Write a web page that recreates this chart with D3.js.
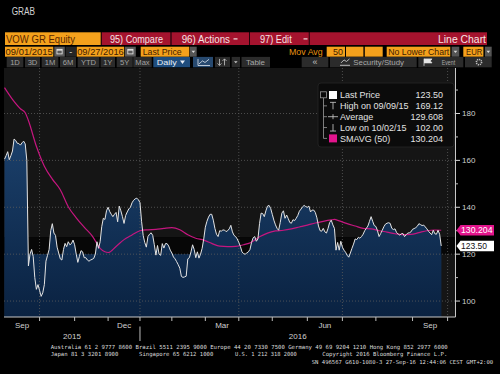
<!DOCTYPE html>
<html>
<head>
<meta charset="utf-8">
<script src="https://cdn.jsdelivr.net/npm/d3@7"></script>
<style>
  html, body { margin: 0; padding: 0; background: #000; }
  svg { display: block; font-family: 'Liberation Sans', Arial, sans-serif; }
</style>
</head>
<body>
<div id="chart"></div>
<script>
'use strict';

// ---- values ----
const holidays = ['2015-12-24', '2015-12-25', '2015-12-31', '2016-01-01', '2016-03-25', '2016-03-28'];
const firstDay = '2015-09-01';

// VOW GR last price, one per trading day from 2015-09-01 to 2016-09-27
const lastPrice = [
  160.5, 162, 163.7, 160.3, 162, 164, 169.1, 168.5, 167.3, 167.2,
  166.5, 167.5, 168.2, 167, 160, 115, 120, 122, 119, 110,
  105, 107, 104.5, 102, 103.5, 107, 117, 119.5, 122, 130,
  133, 129, 128, 123, 120.5, 118, 117.5, 122, 124.6, 123.2,
  125.3, 124, 124.5, 126, 124, 120, 116.5, 119, 121.5, 121,
  118.5, 118.5, 117.5, 117, 117.5, 117.8, 118.2, 120, 125.3, 122.5,
  125.3, 131.7, 135.3, 134.8, 138.5, 140, 138.2, 137, 136, 137,
  137.8, 133.8, 140.5, 138.5, 136, 133.1, 136.5, 138, 139.3, 140,
  141.9, 143, 143.6, 143.9, 143.2, 142, 134, 128, 125, 123,
  127.5, 128.5, 129.1, 128, 124, 119.6, 123.7, 120, 119.5, 124.5,
  122.6, 124.5, 124.5, 123.5, 121.7, 120.5, 118.8, 118, 116.8, 115.5,
  114, 110.5, 110.1, 110.3, 110.6, 118, 118.5, 121, 124, 122,
  118.5, 121, 118.3, 120, 122.5, 126.5, 131.5, 134, 135.8, 137,
  137, 134.5, 131, 128.5, 127.5, 130, 129.8, 130.3, 130.3, 129.6,
  130, 130.8, 132.3, 129.5, 128, 127.5, 126.5, 125, 123.3, 121,
  120.2, 120, 120.5, 121, 122, 125, 127, 127.5, 125.5, 126.5,
  133, 137.5, 137.3, 136, 138.5, 140.5, 140.8, 139.5, 137, 134.5,
  132.5, 131, 130.2, 133.5, 137.5, 138.5, 135.3, 136.7, 135.2, 133.5,
  133.2, 134.7, 134.3, 135.3, 136.5, 138.3, 139.2, 140.2, 140.8, 140.3,
  140, 140.5, 138, 138.8, 138.8, 137.8, 135.5, 132, 130, 129.8,
  131, 129.5, 129, 131, 133.5, 134.5, 132.5, 131, 121.7, 125,
  121.7, 125.5, 123, 121.7, 120.8, 119.5, 118.7, 120.5, 122.5, 124.3,
  126.5, 126.2, 127.2, 126.8, 127.5, 128.5, 130, 131, 132, 134,
  136, 134, 132.2, 131.8, 130, 127.5, 128.8, 130.2, 131.7, 132.8,
  133.2, 133.4, 133.1, 131, 130.5, 130.8, 129.2, 128.6, 128.1, 128.7,
  128.8, 127.5, 128.3, 129, 129.1, 129.5, 130.6, 130.9, 131.3, 131.9,
  133, 132.6, 132.2, 132.4, 131.6, 130.8, 129.8, 129, 128.3, 130.2,
  128.7, 128.5, 130.2, 128.5, 123.5
];

// SMAVG (50)
const smaDates = [
  '2015-09-01', '2015-09-08', '2015-09-15', '2015-09-18', '2015-09-22', '2015-09-29',
  '2015-10-06', '2015-10-13', '2015-10-20', '2015-10-27',
  '2015-11-03', '2015-11-10', '2015-11-17', '2015-11-24', '2015-11-27',
  '2015-12-01', '2015-12-08', '2015-12-15', '2015-12-22',
  '2016-01-04', '2016-01-11', '2016-01-18', '2016-01-25',
  '2016-02-01', '2016-02-08', '2016-02-15', '2016-02-22', '2016-02-29',
  '2016-03-07', '2016-03-14', '2016-03-21', '2016-03-30',
  '2016-04-06', '2016-04-13', '2016-04-20', '2016-04-27',
  '2016-05-04', '2016-05-11', '2016-05-18', '2016-05-25',
  '2016-06-01', '2016-06-08', '2016-06-15', '2016-06-22', '2016-06-24', '2016-06-29',
  '2016-07-06', '2016-07-13', '2016-07-20', '2016-07-27',
  '2016-08-03', '2016-08-10', '2016-08-17', '2016-08-24', '2016-08-31',
  '2016-09-07', '2016-09-14', '2016-09-21', '2016-09-27'
];
const smaValues = [
  191, 186, 182, 180.3, 177, 166,
  157.5, 152, 147.5, 140.2,
  135.5, 131.5, 127.8, 122.5, 121,
  120.7, 123.3, 126.2, 128.2,
  130, 130.4, 130.6, 131,
  131.3, 130.4, 128.3, 126.8, 126,
  124.6, 123.4, 123.2, 123.3,
  124, 125.1, 127.4, 129,
  129.9, 130.2, 130.8, 131.6,
  132.4, 133.3, 134, 134.6, 134.8, 134.2,
  133, 132, 131, 130.8,
  130, 129.4, 128.7, 128.3, 128.4,
  129.2, 130, 130.3, 130.2
];

const yTicks = [100, 120, 140, 160, 180];
const yMinorTicks = [110, 130, 150, 170, 190];
const gridMonths = ['2015-10', '2016-01', '2016-04', '2016-07', '2016-10'];
const labelMonths = ['2015-09', '2015-12', '2016-03', '2016-06', '2016-09'];
const labelNames = ['Sep', 'Dec', 'Mar', 'Jun', 'Sep'];
const yearNames = ['2015', '2016'];

const legendLabels = ['Last Price', 'High on 09/09/15', 'Average', 'Low on 10/02/15', 'SMAVG (50)'];
const legendValues = ['123.50', '169.12', '129.608', '102.00', '130.204'];

const footerLines = [
  'Australia 61 2 9777 8600 Brazil 5511 2395 9000 Europe 44 20 7330 7500 Germany 49 69 9204 1210 Hong Kong 852 2977 6000',
  'SN 496567 G610-1080-3 27-Sep-16 12:44:06 CEST GMT+2:00'
];
const footerRow2 = ['Japan 81 3 3201 8900', 'Singapore 65 6212 1000', 'U.S. 1 212 318 2000', 'Copyright 2016 Bloomberg Finance L.P.'];

// ---- layout ----
const W = 500, H = 374;
const PLOT = { left: 4, right: 455.5, top: 68, bottom: 317 };
const ORANGE = '#f4a11c';
const RED = '#a5132e';
const BTN = '#2b2b2b';
const MAGENTA = '#e2148c';

const fmtDay = d3.utcFormat('%Y-%m-%d');
const tradingDays = d3.utcDay.range(new Date(firstDay + 'T00:00Z'), new Date('2016-10-31T00:00Z'))
  .filter(d => d.getUTCDay() % 6 !== 0 && !holidays.includes(fmtDay(d)))
  .map(fmtDay);
const dayIndex = new Map(tradingDays.map((d, i) => [d, i]));
const monthStart = m => d3.bisectLeft(tradingDays, m + '-01');
const nextMonth = m => fmtDay(d3.utcMonth.offset(new Date(m + '-01T00:00Z'), 1)).slice(0, 7);

const svg = d3.select('#chart').append('svg').attr('width', W).attr('height', H);
svg.append('rect').attr('width', W).attr('height', H).attr('fill', '#000');

function txt(sel, x, y, s, o = {}) {
  const t = sel.append('text').attr('x', x).attr('y', y).text(s)
    .attr('font-size', o.size || 9).attr('fill', o.fill || '#ddd');
  if (o.anchor) t.attr('text-anchor', o.anchor);
  if (o.w) t.attr('textLength', o.w).attr('lengthAdjust', 'spacingAndGlyphs');
  if (o.family) t.attr('font-family', o.family);
  return t;
}
function box(x0, x1, y, h, fill) {
  return svg.append('rect').attr('x', x0).attr('y', y).attr('width', x1 - x0).attr('height', h).attr('fill', fill);
}

// ---- header / toolbar ----
txt(svg, 11.7, 15.3, 'GRAB', { size: 10, fill: '#d2d2d2', w: 23.3 });

// row 1
const r1 = 32.3, h1 = 12.7, b1 = 42.6;
box(5, 100.7, r1, h1, ORANGE);
txt(svg, 6, b1, 'VOW GR Equity', { size: 11, fill: '#5a2700', w: 69 });
box(101.7, 170.5, r1, h1, RED);
txt(svg, 110, b1, '95) Compare', { size: 10, fill: '#f6e4e4', w: 53 });
box(171.5, 249.2, r1, h1, RED);
txt(svg, 181.7, b1, '96) Actions', { size: 10, fill: '#f6e4e4', w: 48.3 });
box(233.5, 237.5, r1 + 6, 1.2, '#f0e0e0');
box(250, 308.8, r1, h1, RED);
txt(svg, 260, b1, '97) Edit', { size: 10, fill: '#f6e4e4', w: 31.7 });
box(303.5, 307.5, r1 + 6, 1.2, '#f0e0e0');
box(309.6, 487, r1, h1, RED);
txt(svg, 486, b1, 'Line Chart', { size: 10, fill: '#f6e4e4', anchor: 'end', w: 48 });

// row 2
const r2 = 46.7, h2 = 10, b2 = 54.9, dark = '#3f1c00';
function calIcon(x0, x1) {
  box(x0, x1, r2, h2, '#5a5a5a');
  const cx = (x0 + x1) / 2;
  svg.append('rect').attr('x', cx - 2.6).attr('y', r2 + 2.6).attr('width', 5.2).attr('height', 4.6)
    .attr('fill', 'none').attr('stroke', '#e8e8e8').attr('stroke-width', 0.8);
  box(cx - 2.6, cx + 2.6, r2 + 2.6, 1.3, '#e8e8e8');
}
function dropBox(x0, x1) {
  box(x0, x1, r2, h2, '#555');
  const cx = (x0 + x1) / 2;
  svg.append('path').attr('d', `M${cx - 1.8},${r2 + 4}L${cx + 1.8},${r2 + 4}L${cx},${r2 + 6.2}Z`).attr('fill', '#ddd');
}
box(5, 53.3, r2, h2, ORANGE);
txt(svg, 5.6, b2, '09/01/2015', { size: 9.5, fill: dark, w: 47.2 });
calIcon(54.3, 64.8);
box(65.6, 76, r2, h2, '#262626');
txt(svg, 70.8, b2, '-', { size: 9, fill: '#ddd', anchor: 'middle' });
box(76.7, 124.2, r2, h2, ORANGE);
txt(svg, 77.2, b2, '09/27/2016', { size: 9.5, fill: dark, w: 46.6 });
calIcon(125, 135.8);
box(140.7, 189.3, r2, h2, ORANGE);
txt(svg, 142.7, b2, 'Last Price', { size: 9.5, fill: dark, w: 39 });
dropBox(190, 196.7);
txt(svg, 289, b2, 'Mov Avg', { size: 9.5, fill: '#e8930f', w: 33.7 });
box(326.7, 345, r2, h2, ORANGE);
txt(svg, 333, b2, '50', { size: 9.5, fill: dark, w: 10 });
box(346, 363.4, r2, h2, ORANGE);
box(364.8, 382.7, r2, h2, ORANGE);
box(386.7, 450.3, r2, h2, ORANGE);
txt(svg, 388.3, b2, 'No Lower Chart', { size: 9.5, fill: dark, w: 61 });
dropBox(451.6, 459.3);
box(463.3, 483.4, r2, h2, ORANGE);
txt(svg, 466, b2, 'EUR', { size: 9.5, fill: dark, w: 16.3 });
dropBox(484.9, 491.7);

// row 3
const r3 = 56.9, h3 = 10.4, b3 = 65;
const rangeButtons = [[6.7, 23.3, '1D'], [25, 40, '3D'], [41.7, 58.3, '1M'], [60, 76, '6M'],
  [77.7, 99.3, 'YTD'], [100.6, 115, '1Y'], [116.7, 132.7, '5Y'], [133.3, 151.7, 'Max']];
rangeButtons.forEach(([x0, x1, s]) => {
  box(x0, x1, r3, h3, BTN);
  txt(svg, (x0 + x1) / 2, b3, s, { size: 7.6, fill: '#a2a2a2', anchor: 'middle' });
});
box(153.3, 190, r3, h3, '#1f4d7e');
txt(svg, 156.7, b3, 'Daily', { size: 8, fill: '#e8eef5', w: 20 });
svg.append('path').attr('d', `M180,${r3 + 3.6}L185,${r3 + 3.6}L182.5,${r3 + 7}Z`).attr('fill', '#e8eef5');
box(193, 213, r3, h3, '#27496f');
svg.append('path').attr('d', `M198,${r3 + 2}V${r3 + 8.6}H210 M199,${r3 + 7}L202.5,${r3 + 4}L205,${r3 + 5.6}L209,${r3 + 2.4}`)
  .attr('fill', 'none').attr('stroke', '#dfe6ee').attr('stroke-width', 0.8);
box(215, 230, r3, h3, BTN);
svg.append('path').attr('d', `M219.5,${r3 + 2}V${r3 + 8.5} M217.5,${r3 + 6.5}L219.5,${r3 + 8.5}L221.5,${r3 + 6.5} M224.5,${r3 + 8.5}V${r3 + 2} M222.5,${r3 + 4}L224.5,${r3 + 2}L226.5,${r3 + 4}`)
  .attr('fill', 'none').attr('stroke', '#c8c8c8').attr('stroke-width', 0.8);
box(231.7, 240, r3, h3, BTN);
svg.append('path').attr('d', `M234,${r3 + 4.3}L237.6,${r3 + 4.3}L235.8,${r3 + 6.4}Z`).attr('fill', '#c8c8c8');
box(241.5, 270, r3, h3, BTN);
txt(svg, 255.5, b3, 'Table', { size: 7.8, fill: '#a8a8a8', anchor: 'middle', w: 19 });
box(301.7, 328.3, r3, h3, BTN);
txt(svg, 315, b3 + 0.3, '«', { size: 9, fill: '#c0c0c0', anchor: 'middle' });
box(330, 416.7, r3, h3, BTN);
svg.append('path').attr('d', `M340,${r3 + 8.4}H350 M341,${r3 + 6}L344,${r3 + 3}L346.5,${r3 + 4.6}L349.5,${r3 + 2}`)
  .attr('fill', 'none').attr('stroke', '#c8c8c8').attr('stroke-width', 0.9);
txt(svg, 353.3, b3, 'Security/Study', { size: 7.8, fill: '#a8a8a8', w: 50.7 });
box(418.3, 463.3, r3, h3, BTN);
svg.append('path').attr('d', `M424,${r3 + 1.8}V${r3 + 9} M424,${r3 + 2}H432L430.3,${r3 + 4}L432,${r3 + 6}H424`).attr('fill', '#e4e4e4').attr('stroke', '#e4e4e4').attr('stroke-width', 0.7);
txt(svg, 441.7, b3, 'Event', { size: 7.8, fill: '#a8a8a8', w: 13.5 });
box(465, 491.7, r3, h3, BTN);
svg.append('circle').attr('cx', 479).attr('cy', r3 + 5.2).attr('r', 2.6).attr('fill', 'none').attr('stroke', '#bdbdbd').attr('stroke-width', 1.6).attr('stroke-dasharray', '1.2,0.8');

// ---- chart ----
const x = d3.scaleLinear().domain([0, monthStart('2016-10')]).range([4.5, 447.6]);
const y = d3.scaleLinear().domain([93.2, 199.4]).range([PLOT.bottom, PLOT.top]);

const priceSeries = lastPrice.map((v, i) => ({ i, v }));
const smaSeries = smaDates.map((d, k) => ({ i: dayIndex.get(d), v: smaValues[k] }));
const lastIdx = priceSeries.length - 1;

const defs = svg.append('defs');
defs.append('clipPath').attr('id', 'plotclip').append('rect')
  .attr('x', PLOT.left).attr('y', PLOT.top).attr('width', PLOT.right - PLOT.left).attr('height', PLOT.bottom - PLOT.top);
const grad = defs.append('linearGradient').attr('id', 'fill').attr('gradientUnits', 'userSpaceOnUse')
  .attr('x1', 0).attr('x2', 0).attr('y1', y(170)).attr('y2', PLOT.bottom);
grad.append('stop').attr('offset', 0).attr('stop-color', '#1b406b');
grad.append('stop').attr('offset', 1).attr('stop-color', '#0a2241');

const plot = svg.append('g').attr('clip-path', 'url(#plotclip)');
plot.append('rect').attr('x', PLOT.left).attr('y', PLOT.top)
  .attr('width', PLOT.right - PLOT.left).attr('height', PLOT.bottom - PLOT.top).attr('fill', '#151515');
// darker band just above the 120 line
plot.append('rect').attr('x', PLOT.left).attr('y', y(127.3))
  .attr('width', PLOT.right - PLOT.left).attr('height', y(120) - y(127.3)).attr('fill', '#070707');
// shading below 120 across the data range
plot.append('rect').attr('x', x(0)).attr('y', y(120))
  .attr('width', x(lastIdx) - x(0)).attr('height', PLOT.bottom - y(120)).attr('fill', 'url(#fill)');

const area = d3.area().x(d => x(d.i)).y0(PLOT.bottom).y1(d => y(d.v));
plot.append('path').datum(priceSeries).attr('d', area).attr('fill', 'url(#fill)');

// grid
const grid = plot.append('g').attr('stroke', '#5c5c5c').attr('stroke-width', 0.8).attr('stroke-dasharray', '1,2');
yTicks.forEach(t => grid.append('line').attr('x1', PLOT.left).attr('x2', PLOT.right).attr('y1', y(t)).attr('y2', y(t)));
gridMonths.forEach(m => {
  const gx = x(monthStart(m));
  grid.append('line').attr('x1', gx).attr('x2', gx).attr('y1', PLOT.top).attr('y2', PLOT.bottom);
});

const line = d3.line().x(d => x(d.i)).y(d => y(d.v));
plot.append('path').datum(smaSeries).attr('d', line.curve(d3.curveMonotoneX))
  .attr('fill', 'none').attr('stroke', '#c5167f').attr('stroke-width', 1.2);
plot.append('path').datum(priceSeries).attr('d', line.curve(d3.curveLinear))
  .attr('fill', 'none').attr('stroke', '#e4e4e4').attr('stroke-width', 1);

// right axis
svg.append('line').attr('x1', PLOT.right).attr('x2', PLOT.right).attr('y1', PLOT.top).attr('y2', PLOT.bottom)
  .attr('stroke', '#c8c8c8').attr('stroke-width', 1);
yTicks.forEach(t => {
  svg.append('line').attr('x1', PLOT.right).attr('x2', PLOT.right + 4.5).attr('y1', y(t)).attr('y2', y(t))
    .attr('stroke', '#d8d8d8').attr('stroke-width', 1);
  txt(svg, 462, y(t) + 2.8, String(t), { size: 8, fill: '#cfcfcf' });
});
yMinorTicks.forEach(t => {
  svg.append('line').attr('x1', PLOT.right).attr('x2', PLOT.right + 2.5).attr('y1', y(t)).attr('y2', y(t))
    .attr('stroke', '#bbb').attr('stroke-width', 1);
});

// bottom axis
svg.append('line').attr('x1', PLOT.left).attr('x2', PLOT.right).attr('y1', PLOT.bottom).attr('y2', PLOT.bottom)
  .attr('stroke', '#c8c8c8').attr('stroke-width', 1);
d3.utcMonths(new Date('2015-10-01T00:00Z'), new Date('2016-10-02T00:00Z')).forEach(d => {
  const mx = x(monthStart(fmtDay(d).slice(0, 7)));
  svg.append('line').attr('x1', mx).attr('x2', mx).attr('y1', PLOT.bottom).attr('y2', PLOT.bottom + 4)
    .attr('stroke', '#bdbdbd').attr('stroke-width', 1);
});
labelMonths.forEach((m, k) => {
  const cx = (x(monthStart(m)) + x(monthStart(nextMonth(m)))) / 2;
  txt(svg, cx, 327.6, labelNames[k], { size: 8, fill: '#d0d0d0', anchor: 'middle' });
});
const janX = x(monthStart('2016-01'));
svg.append('line').attr('x1', janX).attr('x2', janX).attr('y1', 326.5).attr('y2', 341)
  .attr('stroke', '#bdbdbd').attr('stroke-width', 1);
txt(svg, (PLOT.left + janX) / 2, 338.6, yearNames[0], { size: 8, fill: '#d0d0d0', anchor: 'middle' });
txt(svg, (janX + PLOT.right) / 2, 338.6, yearNames[1], { size: 8, fill: '#d0d0d0', anchor: 'middle' });

// value tags on the right axis
function tag(value, fill, textFill, w) {
  const ty = y(+value);
  svg.append('path')
    .attr('d', `M${PLOT.right + 1},${ty}L${PLOT.right + 5},${ty - 5.3}H494V${ty + 5.3}H${PLOT.right + 5}Z`)
    .attr('fill', fill);
  txt(svg, 461, ty + 3.2, value, { size: 9, fill: textFill, w });
}
tag(legendValues[4], MAGENTA, '#ffffff', 31.5);
tag(legendValues[0], '#ffffff', '#111111', 26);

// legend
const lg = svg.append('g');
lg.append('rect').attr('x', 318).attr('y', 83).attr('width', 136).attr('height', 64).attr('rx', 3)
  .attr('fill', '#0b0b0b').attr('stroke', '#262626').attr('stroke-width', 0.8);
const rowY = k => 95 + k * 10.85;
const lgStroke = sel => sel.attr('stroke', '#9a9a9a').attr('stroke-width', 0.8).attr('fill', 'none');
lgStroke(lg.append('path').attr('d', `M323.5,${rowY(0) + 3}V${rowY(4)}` +
  [1, 2, 3, 4].map(k => `M323.5,${rowY(k)}H327`).join('')));
lgStroke(lg.append('rect').attr('x', 320.5).attr('y', rowY(0) - 3.2).attr('width', 6).attr('height', 6));
lg.append('rect').attr('x', 329).attr('y', rowY(0) - 4).attr('width', 8).attr('height', 8).attr('fill', '#ffffff');
lgStroke(lg.append('path').attr('d', `M330,${rowY(1) - 3.5}H336M333,${rowY(1) - 3.5}V${rowY(1) + 3.5}`)).attr('stroke', '#d0d0d0');
lgStroke(lg.append('path').attr('d', `M328,${rowY(2)}H338M333,${rowY(2) - 2.5}V${rowY(2) + 2.5}`)).attr('stroke', '#d0d0d0');
lgStroke(lg.append('path').attr('d', `M333,${rowY(3) - 3.5}V${rowY(3) + 3.5}M330,${rowY(3) + 3.5}H336`)).attr('stroke', '#d0d0d0');
lg.append('rect').attr('x', 329).attr('y', rowY(4) - 4).attr('width', 8).attr('height', 8).attr('fill', MAGENTA);
legendLabels.forEach((s, k) => {
  txt(lg, 340, rowY(k) + 3.2, s, { size: 9, fill: '#e2e2e2' });
  txt(lg, 443, rowY(k) + 3.2, legendValues[k], { size: 9, fill: '#e2e2e2', anchor: 'end' });
});

// footer
const mono = "'DejaVu Sans Mono', monospace";
txt(svg, 50.7, 349.4, footerLines[0], { size: 5.6, fill: '#dcdcdc', family: mono, w: 397 });
[[50.7, 67.6], [139, 74.3], [235, 61.7], [322.3, 125]].forEach(([fx, fw], k) => {
  txt(svg, fx, 356, footerRow2[k], { size: 5.6, fill: '#dcdcdc', family: mono, w: fw });
});
txt(svg, 311.7, 363.5, footerLines[1], { size: 5.5, fill: '#dcdcdc', family: mono, w: 181.5 });
</script>
</body>
</html>
